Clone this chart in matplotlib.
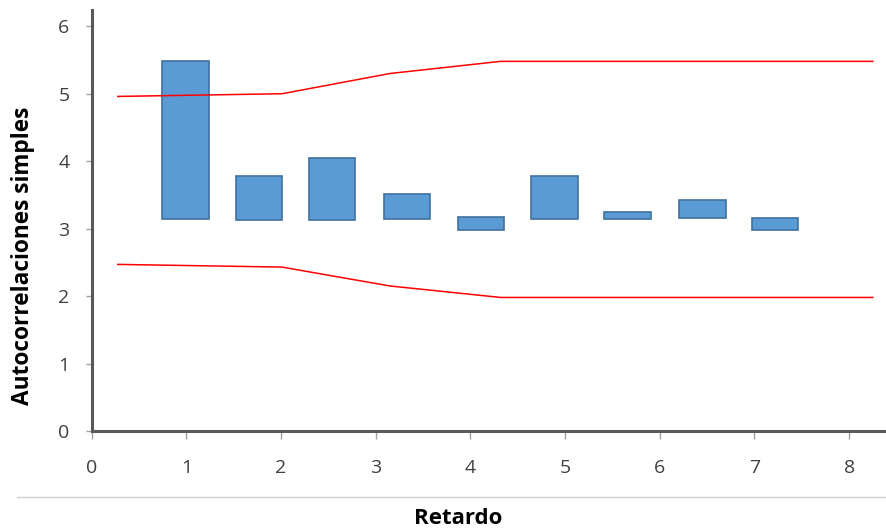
import matplotlib.pyplot as plt
from matplotlib.lines import Line2D

# bar positions (lag axis) and floating bar extents
lag_pos = [0.99, 1.77, 2.54, 3.33, 4.11, 4.89, 5.66, 6.45, 7.22]
bar_top = [5.49, 3.78, 4.05, 3.52, 3.17, 3.78, 3.24, 3.42, 3.16]
bar_bottom = [3.14, 3.13, 3.13, 3.15, 2.98, 3.14, 3.14, 3.16, 2.98]

# confidence band lines
band_x = [0.275, 2.01, 3.15, 4.32, 8.25]
band_upper = [4.96, 5.00, 5.30, 5.48, 5.48]
band_lower = [2.47, 2.43, 2.15, 1.98, 1.98]

x_ticks = [0, 1, 2, 3, 4, 5, 6, 7, 8]
y_ticks = [0, 1, 2, 3, 4, 5, 6]

plt.rcParams['font.family'] = ['Open Sans', 'DejaVu Sans']

fig = plt.figure(figsize=(8.87, 5.31), dpi=100)
ax = fig.add_axes([0.1034, 0.1883, 0.8966, 0.7927])

heights = [t - b for t, b in zip(bar_top, bar_bottom)]
ax.bar(lag_pos, heights, bottom=bar_bottom, width=0.49,
       color='#5b9bd5', edgecolor='#41719c', linewidth=1.2)

ax.plot(band_x, band_upper, color='#ff0000', linewidth=1.1)
ax.plot(band_x, band_lower, color='#ff0000', linewidth=1.1)

ax.set_xlim(0, 8.4)
ax.set_ylim(0, 6.24)
ax.set_xticks(x_ticks)
ax.set_yticks(y_ticks)

for side in ['top', 'right']:
    ax.spines[side].set_visible(False)
for side in ['left', 'bottom']:
    ax.spines[side].set_color('#595959')
    ax.spines[side].set_linewidth(2.2)

ax.tick_params(axis='x', direction='out', length=6, width=1, color='#a0a0a0',
               pad=14, labelsize=14, labelcolor='#404040')
ax.tick_params(axis='y', direction='out', length=4, width=1, color='#a0a0a0',
               pad=12, labelsize=14, labelcolor='#404040')

fig.text(0.026, 0.518, 'Autocorrelaciones simples', rotation=90,
         ha='center', va='center', fontsize=16.3, fontweight='bold')
fig.text(0.516, 0.004, 'Retardo', ha='center', va='bottom',
         fontsize=16, fontweight='bold')

# thin separator line under the tick labels
fig.add_artist(Line2D([0.019, 1.0], [0.064, 0.064], transform=fig.transFigure,
                      color='#d0d0d0', linewidth=1))

fig.savefig('out.png', dpi=100)
